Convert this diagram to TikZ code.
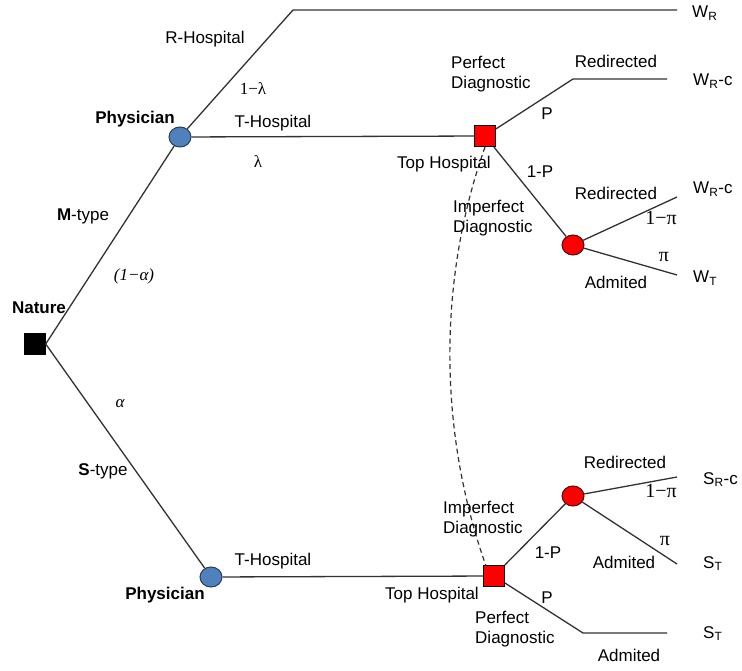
\documentclass[tikz,border=0pt]{standalone}
\usepackage{fontspec}
\usetikzlibrary{shapes.geometric}
\setmainfont{Liberation Sans}
\newfontfamily\grk{Liberation Serif}
\definecolor{linec}{RGB}{50,50,50}
\definecolor{bluefill}{RGB}{79,129,189}
\definecolor{blueline}{RGB}{40,60,90}
\definecolor{redline}{RGB}{70,15,15}
\begin{document}
\begin{tikzpicture}[x=1pt,y=-1pt,
  edge/.style={draw=linec, line width=1.3pt},
  dashedge/.style={draw=linec, line width=1.2pt, dash pattern=on 5pt off 3.5pt},
  txt/.style={font=\fontsize{17}{20}\selectfont, inner sep=0pt, text height=12.5pt, text depth=0pt},
  btxt/.style={txt, font=\fontsize{17}{20}\selectfont\bfseries},
  gtxt/.style={txt, font=\fontsize{17}{20}\selectfont\grk},
  gitxt/.style={txt, font=\fontsize{17}{20}\selectfont\grk\itshape},
  pitxt/.style={txt, font=\fontsize{20}{22}\selectfont\grk},
  mtxt/.style={font=\fontsize{17}{20}\selectfont, inner sep=0pt, align=left, anchor=west},
  paytxt/.style={font=\fontsize{17}{20}\selectfont, inner sep=0pt, anchor=base west},
  natsq/.style={draw=black, fill=black, minimum size=21pt, inner sep=0pt, rectangle},
  redsq/.style={draw=black, fill=red, line width=1pt, minimum size=21pt, inner sep=0pt, rectangle},
  bluec/.style={draw=blueline, fill=bluefill, line width=1pt, ellipse, minimum width=22pt, minimum height=20pt, inner sep=0pt},
  redc/.style={draw=redline, fill=red, line width=1pt, ellipse, minimum width=22pt, minimum height=20pt, inner sep=0pt}
]
\useasboundingbox (0,0) rectangle (742,671);

% decision / chance nodes
\node[natsq] (nat) at (35,344) {};
\node[bluec] (phM) at (180,137) {};
\node[bluec] (phS) at (211,577) {};
\node[redsq] (thM) at (485,136) {};
\node[redc] (ccM) at (573,245) {};
\node[redsq] (thS) at (494,576) {};
\node[redc] (ccS) at (573,496) {};

\coordinate (rc) at (293,10);
\coordinate (wr) at (677,10);
\coordinate (pc1) at (573,79);
\coordinate (pe1) at (667,79);
\coordinate (rM) at (677,197);
\coordinate (aM) at (677,275);
\coordinate (rS) at (677,477);
\coordinate (aS) at (677,564);
\coordinate (pc2) at (583,633);
\coordinate (pe2) at (667,633);
\coordinate (dEnd) at (486,566);

% connectors
\draw[edge] (nat.east) -- (phM);
\draw[edge] (nat.east) -- (phS);
\draw[edge] (phM) -- (rc) -- (wr);
\draw[edge] (phM) -- (thM);
\draw[edge] (thM) -- (pc1) -- (pe1);
\draw[edge] (thM) -- (ccM);
\draw[edge] (ccM) -- (rM);
\draw[edge] (ccM) -- (aM);
\draw[edge] (phS) -- (thS);
\draw[edge] (thS) -- (ccS);
\draw[edge] (ccS) -- (rS);
\draw[edge] (ccS) -- (aS);
\draw[edge] (thS) -- (pc2) -- (pe2);
\draw[dashedge] (thM.south) .. controls (438,280) and (438,430) .. (dEnd);

% left labels
\node[txt] (lRH) at (205,37) {R-Hospital};
\node[gtxt] (l1l) at (253,88) {1−λ};
\node[btxt] (lPhM) at (135,117) {Physician};
\node[txt] (lTHM) at (273,121) {T-Hospital};
\node[gtxt] (llam) at (258,161) {λ};
\node[txt] (lMt) at (83,214) {\textbf{M}-type};
\node[gitxt] (lal1) at (134,274) {(1−α)};
\node[btxt] (lNat) at (39,307) {Nature};
\node[gitxt] (lal) at (120,401) {α};
\node[txt] (lSt) at (103,469) {\textbf{S}-type};
\node[txt] (lTHS) at (273,559) {T-Hospital};
\node[btxt] (lPhS) at (165,593) {Physician};

% upper right labels
\node[mtxt] (lPD1) at (451,74) {Perfect\\Diagnostic};
\node[txt] (lRe1) at (616,61) {Redirected};
\node[txt] (lP1) at (547,113) {P};
\node[txt] (lTop1) at (444,162) {Top Hospital};
\node[txt] (l1P1) at (540,171) {1-P};
\node[mtxt] (lID1) at (453,218) {Imperfect\\Diagnostic};
\node[txt] (lRe2) at (616,193) {Redirected};
\node[pitxt] (l1pi1) at (661,218) {1−π};
\node[pitxt] (lpi1) at (664,255) {π};
\node[txt] (lAd1) at (616,282) {Admited};
\node[paytxt] (wR) at (692,18) {W\textsubscript{R}};
\node[paytxt] (wRc1) at (693,86) {W\textsubscript{R}-c};
\node[paytxt] (wRc2) at (693,194) {W\textsubscript{R}-c};
\node[paytxt] (wT) at (693,283) {W\textsubscript{T}};

% lower right labels
\node[txt] (lRe3) at (625,462) {Redirected};
\node[pitxt] (l1pi2) at (661,491) {1−π};
\node[mtxt] (lID2) at (443,519) {Imperfect\\Diagnostic};
\node[txt] (l1P2) at (548,552) {1-P};
\node[pitxt] (lpi2) at (665,539) {π};
\node[txt] (lAd2) at (624,562) {Admited};
\node[txt] (lTop2) at (432,593) {Top Hospital};
\node[txt] (lP2) at (547,597) {P};
\node[mtxt] (lPD2) at (475,629) {Perfect\\Diagnostic};
\node[txt] (lAd3) at (629,655) {Admited};
\node[paytxt] (sRc) at (703,484) {S\textsubscript{R}-c};
\node[paytxt] (sT1) at (703,568) {S\textsubscript{T}};
\node[paytxt] (sT2) at (703,638) {S\textsubscript{T}};
\end{tikzpicture}
\end{document}
